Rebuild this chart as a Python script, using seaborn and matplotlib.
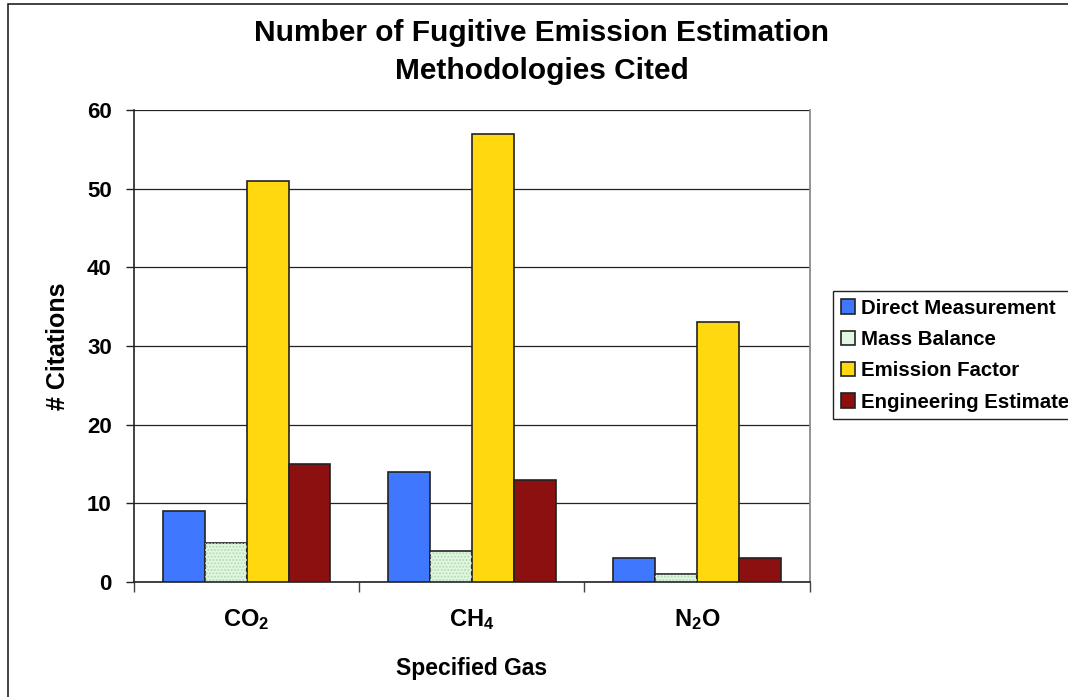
import matplotlib
matplotlib.use("Agg")
import matplotlib.pyplot as plt
import matplotlib.patches as mpatches
import seaborn as sns
import pandas as pd

gases = [r"CO$_2$", r"CH$_4$", r"N$_2$O"]
methods = ["Direct Measurement", "Mass Balance", "Emission Factor", "Engineering Estimate"]
direct_measurement = [9, 14, 3]
mass_balance = [5, 4, 1]
emission_factor = [51, 57, 33]
engineering_estimate = [15, 13, 3]
colors = ["#3f77ff", "#e2f7e2", "#ffd80f", "#8c1010"]

rows = []
for name, vals in zip(methods, [direct_measurement, mass_balance, emission_factor, engineering_estimate]):
    for g, v in zip(gases, vals):
        rows.append({"Gas": g, "Method": name, "Citations": v})
df = pd.DataFrame(rows)

sns.set_theme(style="white")
plt.rcParams["font.family"] = ["Liberation Sans", "DejaVu Sans"]
plt.rcParams["font.weight"] = "bold"
plt.rcParams["mathtext.fontset"] = "custom"
plt.rcParams["mathtext.rm"] = "Liberation Sans:bold"
plt.rcParams["mathtext.it"] = "Liberation Sans:bold"
plt.rcParams["mathtext.bf"] = "Liberation Sans:bold"
plt.rcParams["mathtext.default"] = "bf"
plt.rcParams["hatch.linewidth"] = 1.0
for k in ["text.color", "axes.labelcolor", "xtick.labelcolor", "ytick.labelcolor"]:
    plt.rcParams[k] = "black"

fig = plt.figure(figsize=(10.68, 6.97), dpi=100)
ax = fig.add_axes([0.1255, 0.165, 0.758 - 0.1255, 0.842 - 0.165])

sns.barplot(data=df, x="Gas", y="Citations", hue="Method", hue_order=methods,
            palette=colors, width=0.745, edgecolor="#222222", linewidth=1.2,
            saturation=1, ax=ax, zorder=3)

# dotted pattern for Mass Balance bars
for bar in ax.containers[1]:
    hp = mpatches.Rectangle(bar.get_xy(), bar.get_width(), bar.get_height(),
                            facecolor="none", edgecolor="#b4dcb4", hatch=".....",
                            linewidth=0, zorder=3.5)
    ax.add_patch(hp)

ax.set_ylim(0, 60)
ax.set_xlim(-0.5, 2.5)
ax.set_yticks(range(0, 61, 10))
ax.yaxis.grid(True, color="#222222", linewidth=0.9)
ax.set_axisbelow(True)
for s in ["left", "bottom"]:
    ax.spines[s].set_color("#222222")
    ax.spines[s].set_linewidth(1.2)
ax.spines["right"].set_color("#888888")
ax.spines["top"].set_visible(False)

ax.tick_params(axis="y", which="major", direction="out", length=6, width=1, color="#222222",
               left=True, pad=10, labelsize=16, labelcolor="black")
ax.set_xticks([-0.5, 0.5, 1.5, 2.5], minor=True)
ax.tick_params(axis="x", which="minor", direction="out", length=7, width=1, color="#444444", bottom=True)
ax.tick_params(axis="x", which="major", length=0, pad=18, labelsize=17, labelcolor="black")
for lbl in ax.get_xticklabels() + ax.get_yticklabels():
    lbl.set_fontweight("bold")

ax.set_xlabel("Specified Gas", fontsize=16.5, fontweight="bold", labelpad=18, color="black")
ax.set_ylabel("# Citations", fontsize=18, fontweight="bold", labelpad=12, color="black")

fig.text(0.507, 1 - 33 / 697, "Number of Fugitive Emission Estimation",
         ha="center", va="center", fontsize=21.5, fontweight="bold", color="black")
fig.text(0.507, 1 - 71 / 697, "Methodologies Cited",
         ha="center", va="center", fontsize=21.5, fontweight="bold", color="black")

leg = ax.legend(loc="upper left", bbox_to_anchor=(833 / 1068, 1 - 291 / 697),
                bbox_transform=fig.transFigure, frameon=True, fancybox=False,
                edgecolor="#222222", framealpha=1, fontsize=14.7,
                handlelength=0.7, handleheight=0.7, handletextpad=0.3,
                labelspacing=0.6, borderpad=0.38, borderaxespad=0)
leg.get_frame().set_linewidth(1.0)
for t in leg.get_texts():
    t.set_fontweight("bold")
    t.set_color("black")

border = mpatches.Rectangle((8 / 1068, -0.05), 1.1, 1 - 4 / 697 + 0.05,
                            transform=fig.transFigure, fill=False,
                            edgecolor="#222222", linewidth=1.2, clip_on=False)
fig.add_artist(border)

fig.savefig("out.png", dpi=100)
